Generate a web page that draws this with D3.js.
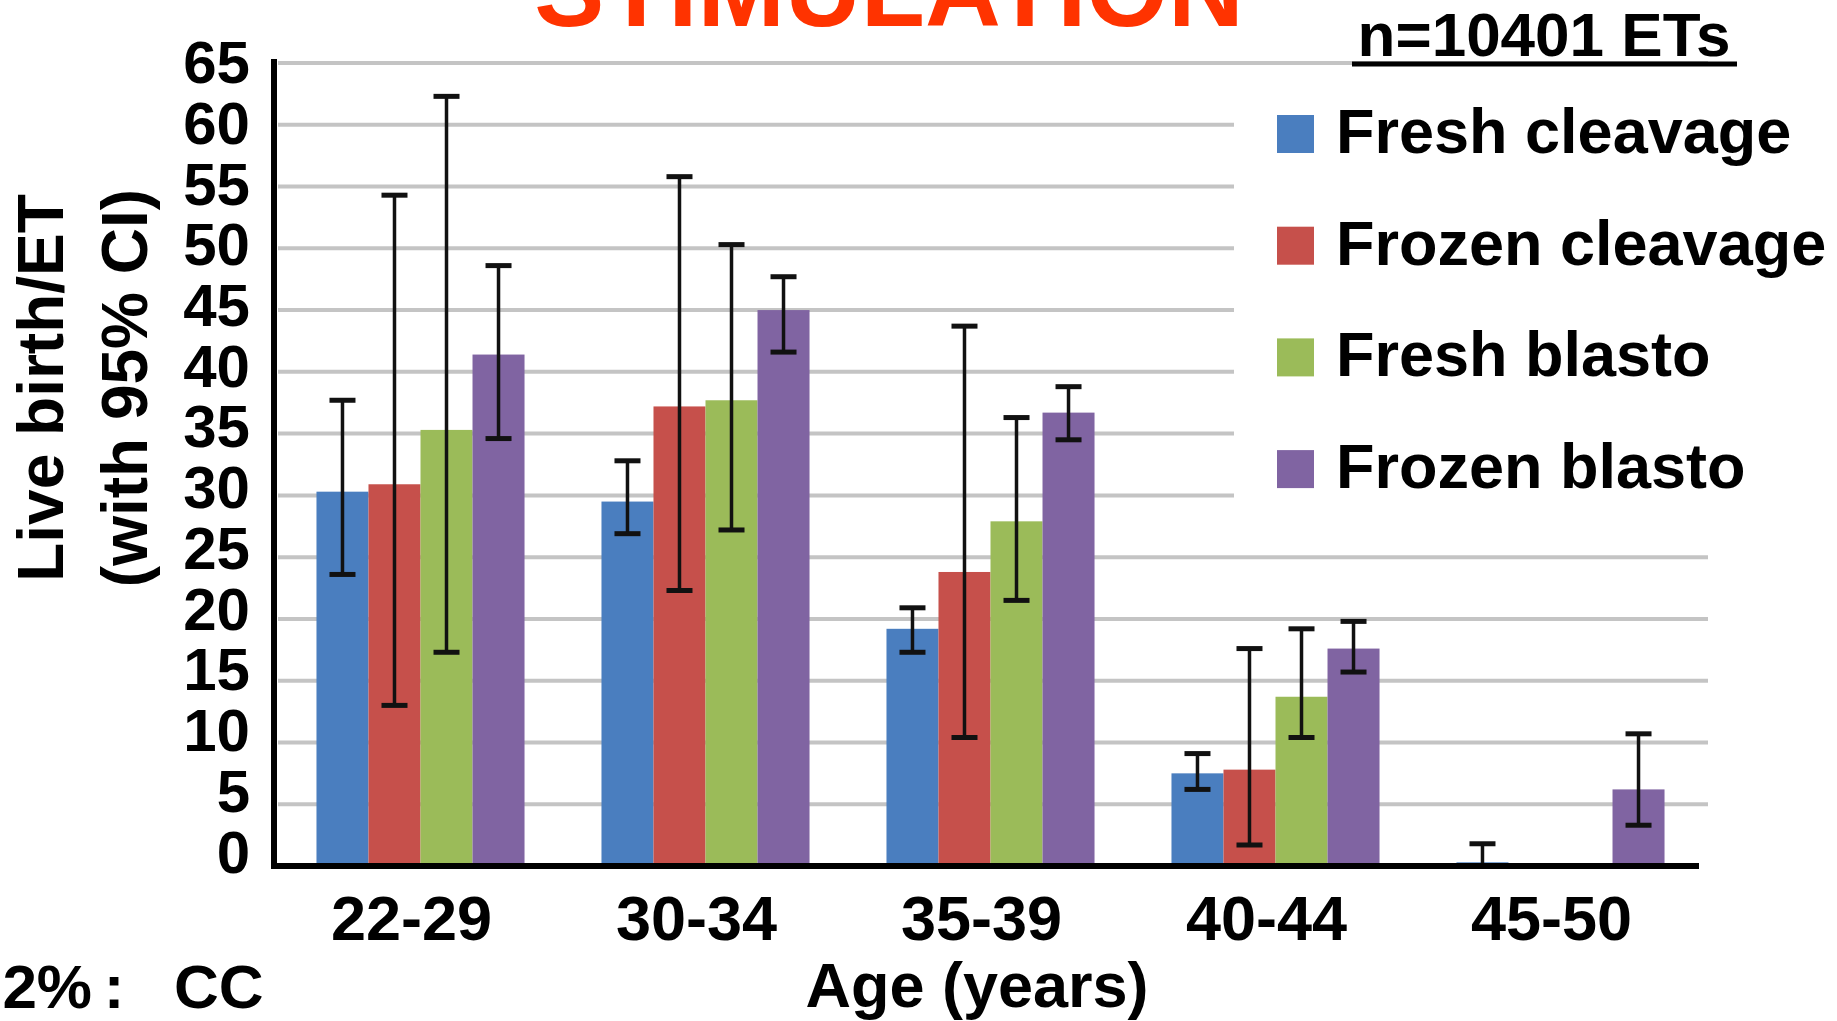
<!DOCTYPE html>
<html>
<head>
<meta charset="utf-8">
<script src="https://cdn.jsdelivr.net/npm/d3@7"></script>
<style>
  html, body { margin: 0; padding: 0; background: #fff; overflow: hidden; }
  svg { display: block; }
  text { font-family: "Liberation Sans", Arial, Helvetica, sans-serif; font-weight: bold; }
</style>
</head>
<body>
<script>
// categories and series
const ages = ["22-29", "30-34", "35-39", "40-44", "45-50"];
const series = ["Fresh cleavage", "Frozen cleavage", "Fresh blasto", "Frozen blasto"];
const colors = ["#4a7ebf", "#c6504b", "#9bbb59", "#8064a2"];

// live birth / ET (%) per age group
const freshCleavage  = [30.3, 29.5, 19.2, 7.5, 0.3];
const frozenCleavage = [30.9, 37.2, 23.8, 7.8, 0];
const freshBlasto    = [35.3, 37.7, 27.9, 13.7, 0];
const frozenBlasto   = [41.4, 45.0, 36.7, 17.6, 6.2];

// 95% CI, low and high (null = no bar drawn)
const freshCleavageLo  = [23.6, 26.9, 17.3, 6.2, 0];
const freshCleavageHi  = [37.7, 32.8, 20.9, 9.1, 1.8];
const frozenCleavageLo = [13.0, 22.3, 10.4, 1.7, null];
const frozenCleavageHi = [54.3, 55.8, 43.7, 17.6, null];
const freshBlastoLo    = [17.3, 27.2, 21.5, 10.4, null];
const freshBlastoHi    = [62.3, 50.3, 36.3, 19.2, null];
const frozenBlastoLo   = [34.6, 41.6, 34.5, 15.7, 3.3];
const frozenBlastoHi   = [48.6, 47.7, 38.8, 19.8, 10.7];

const yTicks = [0, 5, 10, 15, 20, 25, 30, 35, 40, 45, 50, 55, 60, 65];

const values = [freshCleavage, frozenCleavage, freshBlasto, frozenBlasto];
const lows = [freshCleavageLo, frozenCleavageLo, freshBlastoLo, frozenBlastoLo];
const highs = [freshCleavageHi, frozenCleavageHi, freshBlastoHi, frozenBlastoHi];

const width = 1837, height = 1021;

const svg = d3.select("body").append("svg")
  .attr("width", width)
  .attr("height", height);

// scales
const x0 = d3.scaleBand()
  .domain(ages)
  .range([278, 1703])
  .paddingInner(0.27)
  .paddingOuter(0.135);

const x1 = d3.scaleBand()
  .domain(series)
  .range([0, x0.bandwidth()]);

const y = d3.scaleLinear()
  .domain([0, 65])
  .range([866, 63]);

// tick labels sit a touch tighter than the gridlines in the original
const yLabel = d3.scaleLinear()
  .domain([0, 65])
  .range([851, 61.5]);

// flatten the data, one record per bar
const rows = [];
ages.forEach((a, i) => {
  series.forEach((s, j) => {
    rows.push({ age: a, key: s, idx: j, value: values[j][i], lo: lows[j][i], hi: highs[j][i] });
  });
});

// gridlines
svg.append("g")
  .selectAll("line")
  .data(yTicks.filter(t => t > 0))
  .join("line")
  .attr("x1", 278)
  .attr("x2", 1708)
  .attr("y1", d => y(d))
  .attr("y2", d => y(d))
  .attr("stroke", "#c4c4c4")
  .attr("stroke-width", 4);

// legend box hides the gridlines behind it
svg.append("rect")
  .attr("x", 1234)
  .attr("y", 76)
  .attr("width", width - 1234)
  .attr("height", 458)
  .attr("fill", "#fff");

// bars
svg.append("g")
  .selectAll("rect")
  .data(rows)
  .join("rect")
  .attr("x", d => x0(d.age) + x1(d.key))
  .attr("y", d => y(d.value))
  .attr("width", x1.bandwidth())
  .attr("height", d => y(0) - y(d.value))
  .attr("fill", d => colors[d.idx]);

// error bars
const err = svg.append("g")
  .selectAll("g")
  .data(rows.filter(d => d.hi != null))
  .join("g")
  .attr("stroke", "#111");

const cx = d => x0(d.age) + x1(d.key) + x1.bandwidth() / 2;

err.append("line")
  .attr("x1", cx).attr("x2", cx)
  .attr("y1", d => y(d.lo)).attr("y2", d => y(d.hi))
  .attr("stroke-width", 3.5);

err.append("line")
  .attr("x1", d => cx(d) - 13).attr("x2", d => cx(d) + 13)
  .attr("y1", d => y(d.hi)).attr("y2", d => y(d.hi))
  .attr("stroke-width", 5);

err.filter(d => d.lo > 0).append("line")
  .attr("x1", d => cx(d) - 13).attr("x2", d => cx(d) + 13)
  .attr("y1", d => y(d.lo)).attr("y2", d => y(d.lo))
  .attr("stroke-width", 5);

// axes lines
svg.append("line")
  .attr("x1", 274).attr("x2", 274)
  .attr("y1", 59).attr("y2", 868)
  .attr("stroke", "#000").attr("stroke-width", 6);

svg.append("line")
  .attr("x1", 271).attr("x2", 1699)
  .attr("y1", y(0)).attr("y2", y(0))
  .attr("stroke", "#000").attr("stroke-width", 6);

// y tick labels
svg.append("g")
  .selectAll("text")
  .data(yTicks)
  .join("text")
  .attr("x", 250)
  .attr("y", d => yLabel(d))
  .attr("dy", "0.36em")
  .attr("text-anchor", "end")
  .attr("font-size", 60)
  .text(d => d);

// x tick labels
svg.append("g")
  .selectAll("text")
  .data(ages)
  .join("text")
  .attr("x", d => x0(d) + x0.bandwidth() / 2 - 9)
  .attr("y", 940)
  .attr("text-anchor", "middle")
  .attr("font-size", 63)
  .text(d => d);

// axis titles
svg.append("text")
  .attr("x", 977)
  .attr("y", 1007)
  .attr("text-anchor", "middle")
  .attr("font-size", 63)
  .text("Age (years)");

const yTitle = svg.append("text")
  .attr("transform", "translate(63,388) rotate(-90)")
  .attr("text-anchor", "middle")
  .attr("font-size", 64);
yTitle.append("tspan").attr("x", 0).attr("y", 0).text("Live birth/ET");
yTitle.append("tspan").attr("x", 0).attr("y", 84).text("(with 95% CI)");

// title, cut off at the top edge as in the original
svg.append("text")
  .attr("x", 889)
  .attr("y", 26)
  .attr("text-anchor", "middle")
  .attr("font-size", 105)
  .attr("fill", "#ff3300")
  .text("STIMULATION");

// n label with underline
svg.append("text")
  .attr("x", 1544)
  .attr("y", 56)
  .attr("text-anchor", "middle")
  .attr("font-size", 62)
  .text("n=10401 ETs");

svg.append("line")
  .attr("x1", 1352).attr("x2", 1737)
  .attr("y1", 64).attr("y2", 64)
  .attr("stroke", "#000").attr("stroke-width", 5);

// legend
const legend = svg.append("g")
  .selectAll("g")
  .data(series)
  .join("g")
  .attr("transform", (d, i) => "translate(1277," + (153 + i * 111.7) + ")");

legend.append("rect")
  .attr("x", 0).attr("y", -38)
  .attr("width", 37).attr("height", 38)
  .attr("fill", (d, i) => colors[i]);

legend.append("text")
  .attr("x", 59)
  .attr("y", 0)
  .attr("font-size", 63)
  .text(d => d);

// cut-off note at the bottom left
const note = svg.append("g").attr("font-size", 62);
note.append("text").attr("x", 92).attr("y", 1008).attr("text-anchor", "end").text("2%");
note.append("text").attr("x", 114).attr("y", 1008).attr("text-anchor", "middle").text(":");
note.append("text").attr("x", 174).attr("y", 1008).text("CC");
</script>
</body>
</html>
